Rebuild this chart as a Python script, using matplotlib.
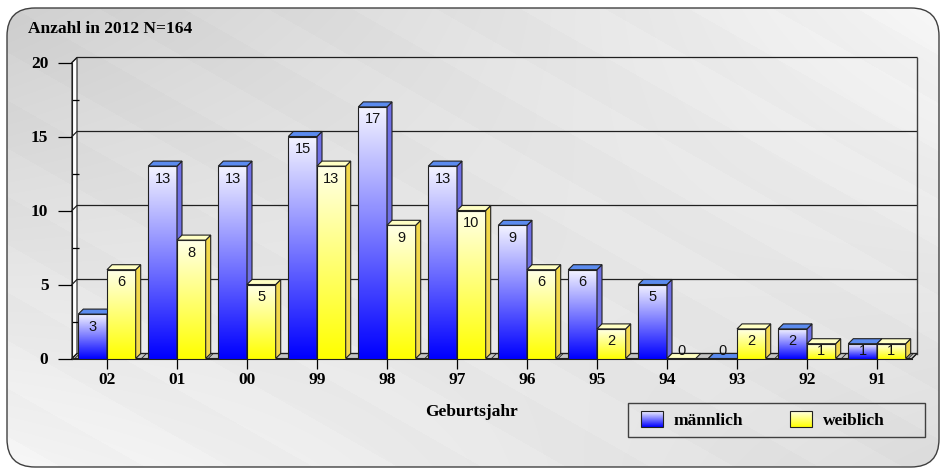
import numpy as np
import matplotlib
matplotlib.use("Agg")
import matplotlib.pyplot as plt
from matplotlib.patches import Polygon, Rectangle, FancyBboxPatch

# data
years = ['02', '01', '00', '99', '98', '97', '96', '95', '94', '93', '92', '91']
male = [3, 13, 13, 15, 17, 13, 9, 6, 5, 0, 2, 1]
female = [6, 8, 5, 13, 9, 10, 6, 2, 0, 2, 1, 1]
series_names = ['männlich', 'weiblich']
title = 'Anzahl in 2012 N=164'
xlabel = 'Geburtsjahr'

W, H = 941, 470
plt.rcParams['hatch.linewidth'] = 0.6
serif = 'Liberation Serif'
sans = 'Liberation Sans'
fs = 12.5

fig = plt.figure(figsize=(W / 100, H / 100), dpi=100)

# background in pixel coordinates
bg = fig.add_axes([0, 0, 1, 1], zorder=0)
bg.set_xlim(0, W)
bg.set_ylim(H, 0)
bg.axis('off')

yy, xx = np.mgrid[0:H, 0:W]
fx = xx / W
fy = yy / H
tone = (0.80 * (1 - fx) * (1 - fy) + 0.96 * fx * (1 - fy)
        + 0.96 * (1 - fx) * fy + 0.86 * fx * fy)
u = yy - 0.57 * xx
tone = tone + 0.012 * ((u // 48) % 2)
img = np.dstack([tone, tone, tone]).clip(0, 1)
frame = FancyBboxPatch((7, 8), 932, 459, boxstyle='round,pad=0,rounding_size=28',
                       fc='none', ec='#404040', lw=1.0, zorder=3)
bg.add_patch(frame)
im = bg.imshow(img, extent=(0, W, H, 0), aspect='auto', zorder=1)
im.set_clip_path(frame)

# legend (drawn by hand, gradient swatches)
def grad(c_top, c_bot, n=64):
    t = np.linspace(0, 1, n)[:, None]
    a = np.array(c_top)[None, :] * (1 - t) + np.array(c_bot)[None, :] * t
    return a[:, None, :]

male_grad = grad((0.95, 0.95, 1.0), (0.0, 0.0, 1.0))
fem_grad = grad((1.0, 1.0, 0.90), (1.0, 1.0, 0.0))

bg.add_patch(Rectangle((628, 403), 297, 34, fc='none', ec='#404040', lw=1.0, zorder=4))
for sx, tx, g, name in [(641, 674, male_grad, series_names[0]),
                        (790, 823, fem_grad, series_names[1])]:
    bg.imshow(g, extent=(sx, sx + 22, 427, 411), aspect='auto', zorder=4)
    bg.add_patch(Rectangle((sx, 411), 22, 16, fc='none', ec='#202020', lw=0.8, zorder=5))
    bg.text(tx, 421, name, fontsize=fs, fontweight='bold', family=serif,
            va='center', ha='left', zorder=5)
bg.set_xlim(0, W)
bg.set_ylim(H, 0)

fig.text(28 / W, 1 - 29 / H, title, fontsize=fs, fontweight='bold', family=serif,
         va='center', ha='left')
fig.text(471 / W, 1 - 412 / H, xlabel, fontsize=fs, fontweight='bold', family=serif,
         va='center', ha='center')

# main chart
x0px, x1px = 72, 912
y0px, y1px = 358.5, 62.5
ax = fig.add_axes([x0px / W, 1 - y0px / H, (x1px - x0px) / W, (y0px - y1px) / H], zorder=2)
ax.patch.set_visible(False)
ncat = len(years)
ymax = 20
dx = 5 / ((x1px - x0px) / ncat)
dy = 5 / ((y0px - y1px) / ymax)
xl, xr = -0.5, ncat - 0.5

# left wall, floor, back wall grid
ax.add_patch(Polygon([(xl, 0), (xl, ymax), (xl + dx, ymax + dy), (xl + dx, dy)],
                     closed=True, fc='white', ec='#202020', lw=0.8, clip_on=False, zorder=1))
ax.add_patch(Polygon([(xl, 0), (xr, 0), (xr + dx, dy), (xl + dx, dy)], closed=True,
                     fc='#c4c4c4', ec='#202020', hatch='//', lw=0.8, clip_on=False, zorder=1))
for v in range(0, ymax + 1, 5):
    ax.plot([xl, xl + dx, xr + dx], [v, v + dy, v + dy], color='#202020', lw=0.9,
            clip_on=False, zorder=1.5)
ax.plot([xr + dx, xr + dx], [dy, ymax + dy], color='#404040', lw=1.0, clip_on=False, zorder=1.5)
ax.plot([xr, xr + dx], [0, dy], color='#202020', lw=0.8, clip_on=False, zorder=1.5)

bw = 0.41
styles = [(male, -bw, male_grad, '#5b8bef', '#7070e6'),
          (female, 0.0, fem_grad, '#ffffc4', '#f2d84a')]
z = 3
for i in range(ncat):
    for vals, off, g, topc, sidec in styles:
        v = vals[i]
        bx = i + off
        if v > 0:
            ax.imshow(g, extent=(bx, bx + bw, 0, v), aspect='auto', origin='upper',
                      interpolation='bilinear', zorder=z)
            ax.add_patch(Rectangle((bx, 0), bw, v, fc='none', ec='#202020', lw=0.8, zorder=z + 0.1))
            ax.add_patch(Polygon([(bx + bw, 0), (bx + bw + dx, dy), (bx + bw + dx, v + dy),
                                  (bx + bw, v)], closed=True, fc=sidec, ec='#202020',
                                 lw=0.8, zorder=z + 0.1))
        ax.add_patch(Polygon([(bx, v), (bx + dx, v + dy), (bx + bw + dx, v + dy), (bx + bw, v)],
                             closed=True, fc=topc, ec='#202020', lw=0.8, zorder=z + 0.1))
        ax.text(bx + bw / 2, max(v - 0.85, 0.5), str(v), fontsize=10.5, family=sans,
                ha='center', va='center', color='#111111', zorder=z + 0.2)
        z += 1

ax.set_xlim(xl, xr)
ax.set_ylim(0, ymax)
for s in ['top', 'right']:
    ax.spines[s].set_visible(False)
ax.spines['left'].set_color('#202020')
ax.spines['bottom'].set_color('#202020')
ax.spines['left'].set_zorder(1.6)
ax.set_xticks(range(ncat))
ax.set_xticklabels(years, fontsize=fs, fontweight='bold', family=serif)
ax.set_yticks(range(0, ymax + 1, 5))
ax.set_yticklabels([str(v) for v in range(0, ymax + 1, 5)], fontsize=fs,
                   fontweight='bold', family=serif)
ax.set_yticks(np.arange(2.5, ymax, 5), minor=True)
ax.tick_params(axis='y', which='major', length=10, width=0.9, direction='out', pad=7)
ax.tick_params(axis='y', which='minor', length=5, width=0.9, direction='in')
ax.tick_params(axis='x', length=7, width=0.9, direction='out', pad=3)

fig.savefig('out.png', dpi=100)
